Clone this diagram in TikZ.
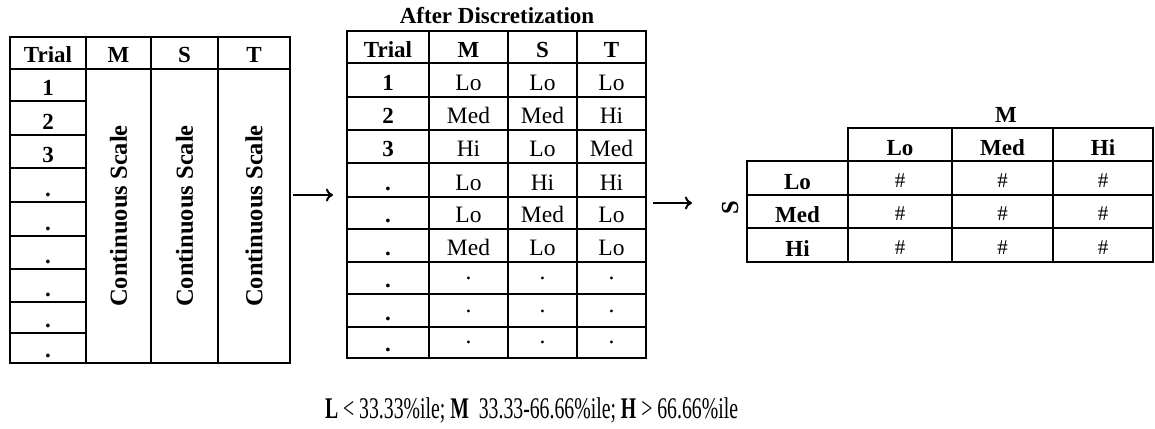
\documentclass[tikz,border=0pt]{standalone}
\usepackage{fontspec}
\setmainfont{Liberation Serif}
\usepackage{graphicx}
\usetikzlibrary{arrows.meta}
\begin{document}
\begin{tikzpicture}[x=1pt,y=-1pt,
  txt/.style={font=\fontsize{23.5}{23.5}\selectfont, inner sep=0pt, anchor=base},
  btxt/.style={font=\fontsize{23}{23}\selectfont\bfseries, inner sep=0pt, anchor=base},
  rtxt/.style={font=\fontsize{24.5}{24.5}\selectfont\bfseries, inner sep=0pt, anchor=center, rotate=90},
  outer/.style={line width=2.6pt},
  inner/.style={line width=1.8pt},
  arr/.style={-{To[length=7pt,width=13pt]}, line width=2pt}]
\useasboundingbox (0,0) rectangle (1155,428);

% ---------- Table 1 ----------
\draw[outer] (10,37) rectangle (290,363);
\foreach \x in {86,151,218} \draw[inner] (\x,37) -- (\x,363);
\draw[outer] (10,69) -- (290,69);
\foreach \y in {101,135,168,202,236,269,302,333} \draw[outer] (10,\y) -- (86,\y);
\foreach \x/\t/\n in {48/Trial/a, 118.5/M/b, 184.5/S/c, 254/T/d}
  \node[btxt] (t1h\n) at (\x,63) {\t};
\foreach \y/\t [count=\i] in {101/1,135/2,168/3,202/.,236/.,269/.,302/.,333/.,363/.}
  \node[btxt] (t1r\i) at (48,\y-6) {\t};
\foreach \x/\n in {118.5/b,184.5/c,254/d}
  \node[rtxt] (t1c\n) at (\x,216) {Continuous Scale};

% ---------- Table 2 ----------
\node[btxt] (title2) at (497,24) {After Discretization};
\draw[outer] (347,31) rectangle (646,358);
\foreach \x in {429,508,577} \draw[inner] (\x,31) -- (\x,358);
\draw[outer] (347,63) -- (646,63);
\foreach \y in {97,130,163,197,229,262,294,327} \draw[inner] (347,\y) -- (646,\y);
\foreach \x/\t/\n in {388/Trial/a, 468.5/M/b, 542.5/S/c, 611.5/T/d}
  \node[btxt] (t2h\n) at (\x,57) {\t};
\foreach \y/\r/\m/\s/\tt [count=\i] in {97/1/Lo/Lo/Lo, 130/2/Med/Med/Hi, 163/3/Hi/Lo/Med,
    197/./Lo/Hi/Hi, 229/./Lo/Med/Lo, 262/./Med/Lo/Lo}{
  \node[btxt] (t2r\i) at (388,\y-7) {\r};
  \node[txt] (t2m\i) at (468.5,\y-7) {\m};
  \node[txt] (t2s\i) at (542.5,\y-7) {\s};
  \node[txt] (t2t\i) at (611.5,\y-7) {\tt};
}
\foreach \y [count=\i from 7] in {294,327,358}{
  \node[btxt] (t2r\i) at (388,\y-7) {.};
  \node[txt] (t2m\i) at (468.5,\y-15) {.};
  \node[txt] (t2s\i) at (542.5,\y-15) {.};
  \node[txt] (t2t\i) at (611.5,\y-15) {.};
}

% ---------- Table 3 ----------
\node[btxt] (mlab) at (1006,122) {M};
\node[rtxt] (slab) at (730,208) {S};
\draw[outer] (848,128) rectangle (1153,262);
\draw[outer] (747,161) rectangle (848,262);
\draw[outer] (848,161) -- (1153,161);
\foreach \x in {952,1053} \draw[inner] (\x,128) -- (\x,262);
\foreach \y in {195,228} \draw[inner] (747,\y) -- (1153,\y);
\foreach \x/\t/\n in {900/Lo/a, 1002.5/Med/b, 1103/Hi/c}
  \node[btxt] (t3h\n) at (\x,155) {\t};
\foreach \y/\t/\n in {195/Lo/a, 228/Med/b, 262/Hi/c}{
  \node[btxt] (t3r\n) at (797.5,\y-6) {\t};
  \foreach \x/\k in {900/a,1002.5/b,1103/c}
    \node[txt, font=\fontsize{21}{21}\selectfont] (t3\n\k) at (\x,\y-8) {\#};
}

% ---------- Arrows ----------
\coordinate (a1s) at (293,195);
\coordinate (a1e) at (333,195);
\coordinate (a2s) at (653,203);
\coordinate (a2e) at (692,203);
\draw[arr] (a1s) -- (a1e);
\draw[arr] (a2s) -- (a2e);

% ---------- Footer ----------
\node[inner sep=0pt, anchor=base, font=\fontsize{30}{30}\selectfont] (foot) at (531.5,418)
  {\resizebox{413pt}{\height}{\textbf{L} {<} 33.33\%ile; \textbf{M}\ \ 33.33-66.66\%ile; \textbf{H} {>} 66.66\%ile}};
\end{tikzpicture}
\end{document}
